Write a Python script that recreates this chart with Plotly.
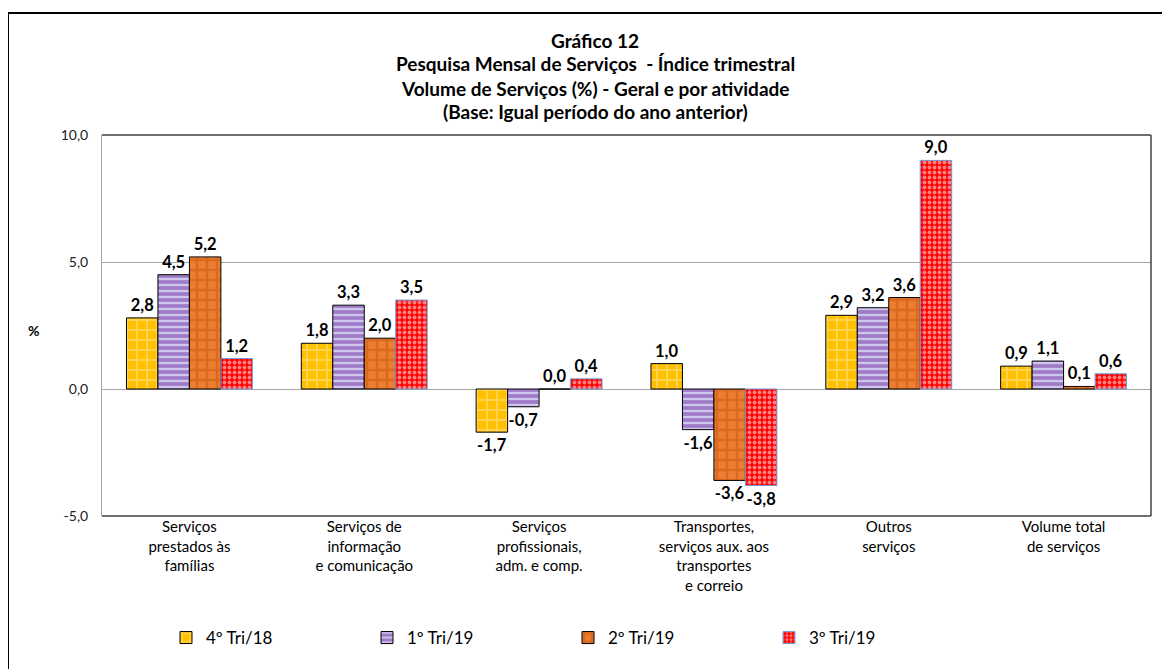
import plotly.graph_objects as go

categories = [
    "Serviços<br>prestados às<br>famílias",
    "Serviços de<br>informação<br>e comunicação",
    "Serviços<br>profissionais,<br>adm. e comp.",
    "Transportes,<br>serviços aux. aos<br>transportes<br>e correio",
    "Outros<br>serviços",
    "Volume total<br>de serviços",
]
series_names = ["4º Tri/18", "1º Tri/19", "2º Tri/19", "3º Tri/19"]
tri4_18 = [2.8, 1.8, -1.7, 1.0, 2.9, 0.9]
tri1_19 = [4.5, 3.3, -0.7, -1.6, 3.2, 1.1]
tri2_19 = [5.2, 2.0, 0.0, -3.6, 3.6, 0.1]
tri3_19 = [1.2, 3.5, 0.4, -3.8, 9.0, 0.6]
y_ticks = [-5, 0, 5, 10]
y_tick_labels = ["-5,0", "0,0", "5,0", "10,0"]

FONT = "Lato"

styles = [
    dict(bg="#FFC000", fg="#FFE699", shape="+", size=10, sol=0.35, line="#000000"),
    dict(bg="#CFC6EE", fg="#7030A0", shape="-", size=6, sol=0.62, line="#000000"),
    dict(bg="#ED7D31", fg="#C55A11", shape="+", size=10, sol=0.45, line="#000000"),
    dict(bg="#FF0000", fg="#FFFFFF", shape=".", size=5, sol=0.45, line="#6F9BD8"),
]

fig = go.Figure()
for name, vals, st in zip(series_names, [tri4_18, tri1_19, tri2_19, tri3_19], styles):
    fig.add_trace(go.Bar(
        name=name, x=categories, y=vals,
        marker=dict(color=st["bg"],
                    line=dict(color=st["line"], width=1),
                    pattern=dict(shape=st["shape"], fgcolor=st["fg"], bgcolor=st["bg"],
                                 size=st["size"], solidity=st["sol"], fillmode="overlay")),
        texttemplate="%{y:.1f}", textposition="outside",
        textfont=dict(family=FONT, size=16.5, color="#000000", weight="bold"),
        cliponaxis=False,
    ))

# page body has an 8px margin: work in screen coords and shift by OFF
OFF = 8
W, H = 1170 - OFF, 669 - OFF
L, R, T, B = 102, 1151, 135, 516  # screen coords of plot area
pw, ph = R - L, B - T

def px(x):
    return (x - L) / pw

def py(y):
    return (B - y) / ph

fig.update_layout(
    width=W, height=H,
    margin=dict(l=L - OFF, r=(W + OFF) - R, t=T - OFF, b=(H + OFF) - B, autoexpand=False),
    paper_bgcolor="white", plot_bgcolor="white",
    separators=",.",
    barmode="group", bargap=0.28, bargroupgap=0,
    font=dict(family=FONT, color="#000000"),
    showlegend=True,
    legend=dict(orientation="h", x=px(166), xanchor="left", y=py(638), yanchor="middle",
                font=dict(family=FONT, size=17, color="#000000"),
                entrywidth=156, entrywidthmode="pixels", itemwidth=30,
                bgcolor="rgba(0,0,0,0)"),
    yaxis=dict(range=[-5, 10], tickvals=y_ticks, ticktext=y_tick_labels,
               showgrid=True, gridcolor="#A6A6A6", gridwidth=1,
               zeroline=True, zerolinecolor="#A6A6A6", zerolinewidth=1,
               showline=True, linecolor="#A6A6A6", linewidth=1,
               ticks="", ticklabelstandoff=10, automargin=False,
               tickfont=dict(family=FONT, size=14, color="#222222")),
    xaxis=dict(showgrid=False, showline=False, ticks="", automargin=False,
               tickfont=dict(family=FONT, size=15, color="#000000"),
               tickangle=0),
)

# plot area border (top, right, bottom)
fig.add_shape(type="line", xref="paper", yref="paper", x0=0, x1=1, y0=1, y1=1,
              line=dict(color="#404040", width=1.5))
fig.add_shape(type="line", xref="paper", yref="paper", x0=1, x1=1, y0=0, y1=1,
              line=dict(color="#404040", width=1.5))
fig.add_shape(type="line", xref="paper", yref="paper", x0=0, x1=1, y0=0, y1=0,
              line=dict(color="#404040", width=1.5))
# outer chart border
fig.add_shape(type="rect", xref="paper", yref="paper",
              x0=px(8), x1=px(1185), y0=py(680), y1=py(13),
              line=dict(color="#000000", width=2), fillcolor="rgba(0,0,0,0)", layer="below")

title_lines = [
    ("Gráfico 12", 40),
    ("Pesquisa Mensal de Serviços  - Índice trimestral", 64),
    ("Volume de Serviços (%) - Geral e por atividade", 88),
    ("(Base: Igual período do ano anterior)", 112),
]
for txt, yy in title_lines:
    fig.add_annotation(text=txt, xref="paper", yref="paper", x=px(595), y=py(yy),
                       xanchor="center", yanchor="middle", showarrow=False,
                       font=dict(family=FONT, size=19, color="#000000", weight="bold"))

fig.add_annotation(text="%", xref="paper", yref="paper", x=px(33), y=py(330),
                   xanchor="center", yanchor="middle", showarrow=False,
                   font=dict(family=FONT, size=14, color="#000000", weight="bold"))

fig.write_html("out.html")
